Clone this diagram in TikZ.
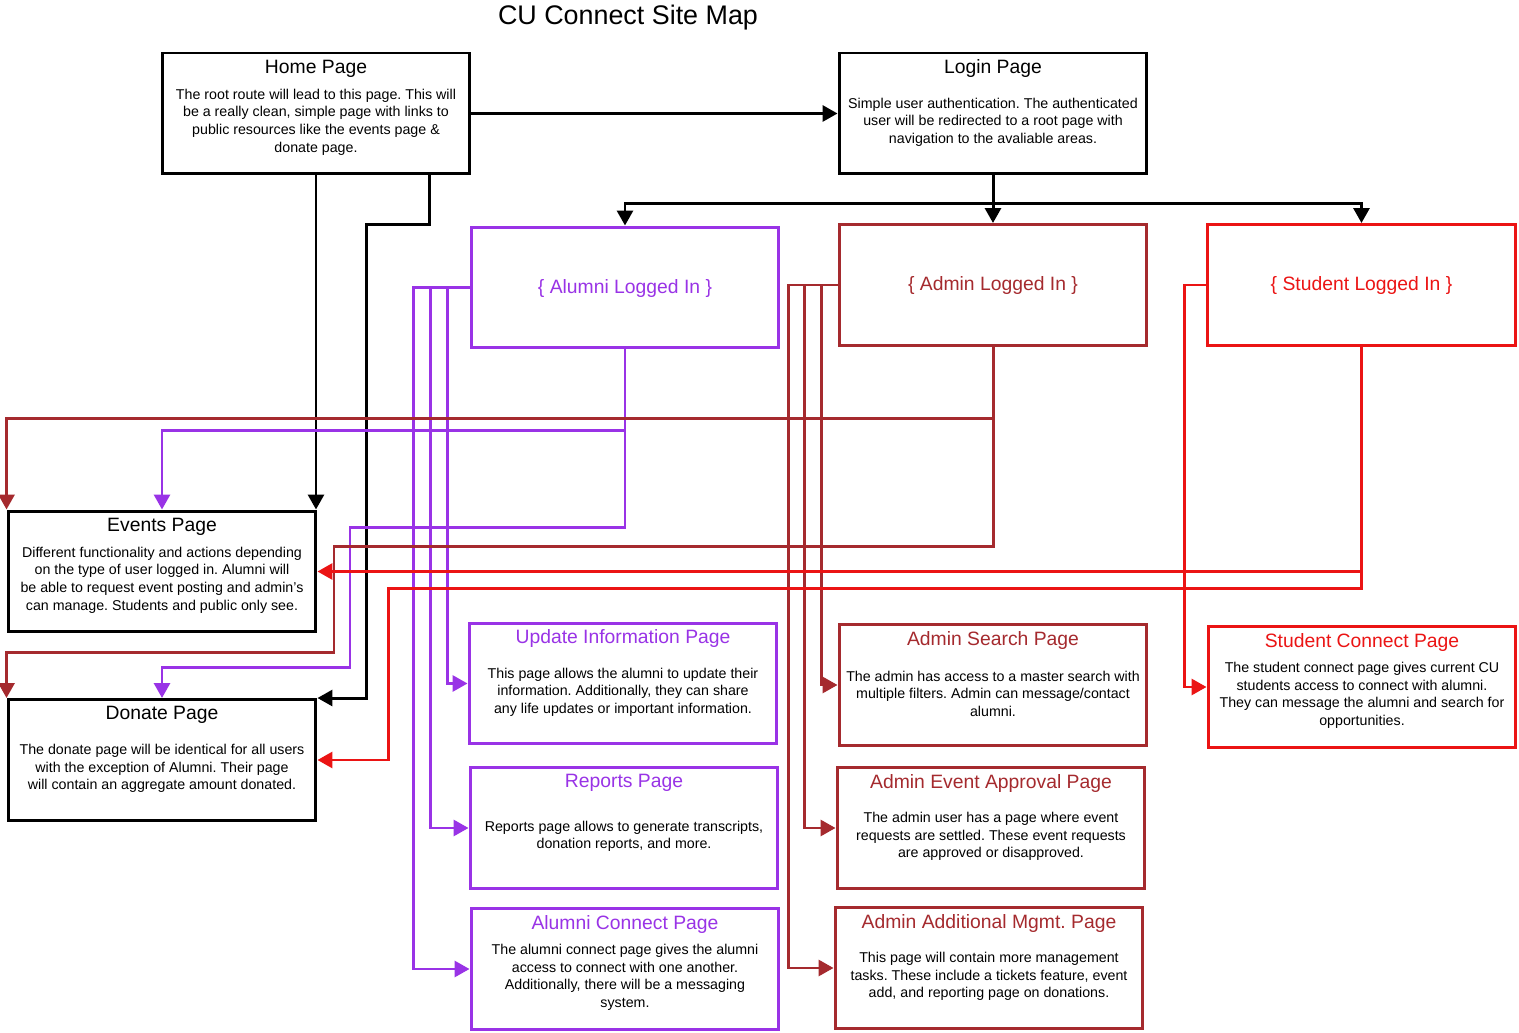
\documentclass[tikz,border=0pt]{standalone}
\usepackage{fontspec}
\setmainfont{Liberation Sans}
\frenchspacing
\usetikzlibrary{arrows.meta,positioning}

\definecolor{alumc}{RGB}{153,51,230}
\definecolor{admc}{RGB}{165,42,46}
\definecolor{studc}{RGB}{235,20,20}

\tikzset{
  pagebox/.style={draw=#1,line width=1.7pt,minimum width=6.16cm,minimum height=2.42cm,inner sep=0pt},
  pagettl/.style={text=#1,inner sep=0pt,font=\fontsize{11}{13}\selectfont},
  pagetxt/.style={align=center,inner sep=0pt,font=\fontsize{8.1}{10}\selectfont},
  rolebox/.style={pagebox=#1,text=#1,font=\fontsize{11}{13}\selectfont,text depth=-0.1cm},
  arr/.style={draw=#1,line width=1.7pt,-{Triangle[length=0.3cm,width=0.32cm]}},
}

\begin{document}
\begin{tikzpicture}[x=0.02cm,y=-0.02cm]
  \useasboundingbox[fill=white] (0,0) rectangle (1519,1033);
  \node[font=\fontsize{15.3}{18}\selectfont] (title) at (628,18) {CU Connect Site Map};

  % top row
  \node[pagebox=black] (home) at (316,113.5) {};
  \node[pagettl=black,below=0.16cm of home.north] (home-t) {Home Page};
  \node[pagetxt,yshift=-0.17cm] (home-d) at (home.center) {The root route will lead to this page. This will\\be a really clean, simple page with links to\\public resources like the events page \&\\donate page.};
  \node[pagebox=black] (login) at (993,113.5) {};
  \node[pagettl=black,below=0.16cm of login.north] (login-t) {Login Page};
  \node[pagetxt,yshift=-0.17cm] (login-d) at (login.center) {Simple user authentication. The authenticated\\user will be redirected to a root page with\\navigation to the avaliable areas.};

  % logged in states
  \node[pagebox=alumc] (alum) at (625,287.5) {};
  \node[pagettl=alumc] (alum-t) at ([yshift=-0.02cm]alum.center) {\{ Alumni Logged In \}};
  \node[pagebox=admc] (admin) at (993,285) {};
  \node[pagettl=admc] (admin-t) at ([yshift=-0.02cm]admin.center) {\{ Admin Logged In \}};
  \node[pagebox=studc] (stud) at (1361.5,285) {};
  \node[pagettl=studc] (stud-t) at ([yshift=-0.02cm]stud.center) {\{ Student Logged In \}};

  % public pages
  \node[pagebox=black] (events) at (162,571.5) {};
  \node[pagettl=black,below=0.16cm of events.north] (events-t) {Events Page};
  \node[pagetxt,yshift=-0.17cm] (events-d) at (events.center) {Different functionality and actions depending\\on the type of user logged in. Alumni will\\be able to request event posting and admin's\\can manage. Students and public only see.};
  \node[pagebox=black] (donate) at (162,760) {};
  \node[pagettl=black,below=0.16cm of donate.north] (donate-t) {Donate Page};
  \node[pagetxt,yshift=-0.17cm] (donate-d) at (donate.center) {The donate page will be identical for all users\\with the exception of Alumni. Their page\\will contain an aggregate amount donated.};

  % alumni pages
  \node[pagebox=alumc] (upd) at (623,683.5) {};
  \node[pagettl=alumc,below=0.16cm of upd.north] (upd-t) {Update Information Page};
  \node[pagetxt,yshift=-0.17cm] (upd-d) at (upd.center) {This page allows the alumni to update their\\information. Additionally, they can share\\any life updates or important information.};
  \node[pagebox=alumc] (rep) at (624,828) {};
  \node[pagettl=alumc,below=0.16cm of rep.north] (rep-t) {Reports Page};
  \node[pagetxt,yshift=-0.17cm] (rep-d) at (rep.center) {Reports page allows to generate transcripts,\\donation reports, and more.};
  \node[pagebox=alumc] (acon) at (625,969) {};
  \node[pagettl=alumc,below=0.16cm of acon.north] (acon-t) {Alumni Connect Page};
  \node[pagetxt,yshift=-0.17cm] (acon-d) at (acon.center) {The alumni connect page gives the alumni\\access to connect with one another.\\Additionally, there will be a messaging\\system.};

  % admin pages
  \node[pagebox=admc] (asrch) at (993,685) {};
  \node[pagettl=admc,below=0.16cm of asrch.north] (asrch-t) {Admin Search Page};
  \node[pagetxt,yshift=-0.17cm] (asrch-d) at (asrch.center) {The admin has access to a master search with\\multiple filters. Admin can message/contact\\alumni.};
  \node[pagebox=admc] (appr) at (991,828) {};
  \node[pagettl=admc,below=0.16cm of appr.north] (appr-t) {Admin Event Approval Page};
  \node[pagetxt,yshift=-0.17cm] (appr-d) at (appr.center) {The admin user has a page where event\\requests are settled. These event requests\\are approved or disapproved.};
  \node[pagebox=admc] (addl) at (989,968) {};
  \node[pagettl=admc,below=0.16cm of addl.north] (addl-t) {Admin Additional Mgmt. Page};
  \node[pagetxt,yshift=-0.17cm] (addl-d) at (addl.center) {This page will contain more management\\tasks. These include a tickets feature, event\\add, and reporting page on donations.};

  % student page
  \node[pagebox=studc] (scon) at (1362,687) {};
  \node[pagettl=studc,below=0.16cm of scon.north] (scon-t) {Student Connect Page};
  \node[pagetxt,yshift=-0.17cm] (scon-d) at (scon.center) {The student connect page gives current CU\\students access to connect with alumni.\\They can message the alumni and search for\\opportunities.};

  % black links
  \draw[arr=black] (home.east) -- (login.west);
  \draw[arr=black] (home.south) -- (home.south |- events.north);
  \draw[arr=black] ([xshift=2.28cm]home.south) -- ++(0,49) -| ([xshift=0.98cm]donate.north east) -- (donate.north east);
  \draw[arr=black] (login.south) -- (admin.north);
  \draw[arr=black] (login.south) -- ++(0,28) -| (alum.north);
  \draw[arr=black] (login.south) -- ++(0,28) -| (stud.north);

  % alumni links
  \foreach \t/\d in {upd/22,rep/39,acon/56}
    \draw[arr=alumc] (alum.west) -- ++(-\d,0) |- (\t.west);
  \draw[arr=alumc] (alum.south) -- ++(0,81) -| (events.north);
  \draw[arr=alumc] (alum.south) -- ++(0,178) -- ++(-275,0) -- ++(0,140) -| (donate.north);

  % admin links
  \foreach \t/\d in {asrch/16,appr/33,addl/49}
    \draw[arr=admc] (admin.west) -- ++(-\d,0) |- (\t.west);
  \draw[arr=admc] (admin.south) -- ++(0,72) -| (events.north west);
  \draw[arr=admc] (admin.south) -- ++(0,200) -- ++(-659,0) -- ++(0,106) -| (donate.north west);

  % student links
  \draw[arr=studc] (stud.west) -- ++(-22,0) |- (scon.west);
  \draw[arr=studc] (stud.south) |- (events.east);
  \draw[arr=studc] (stud.south) -- ++(0,242) -- ++(-973,0) |- (donate.east);
\end{tikzpicture}
\end{document}
